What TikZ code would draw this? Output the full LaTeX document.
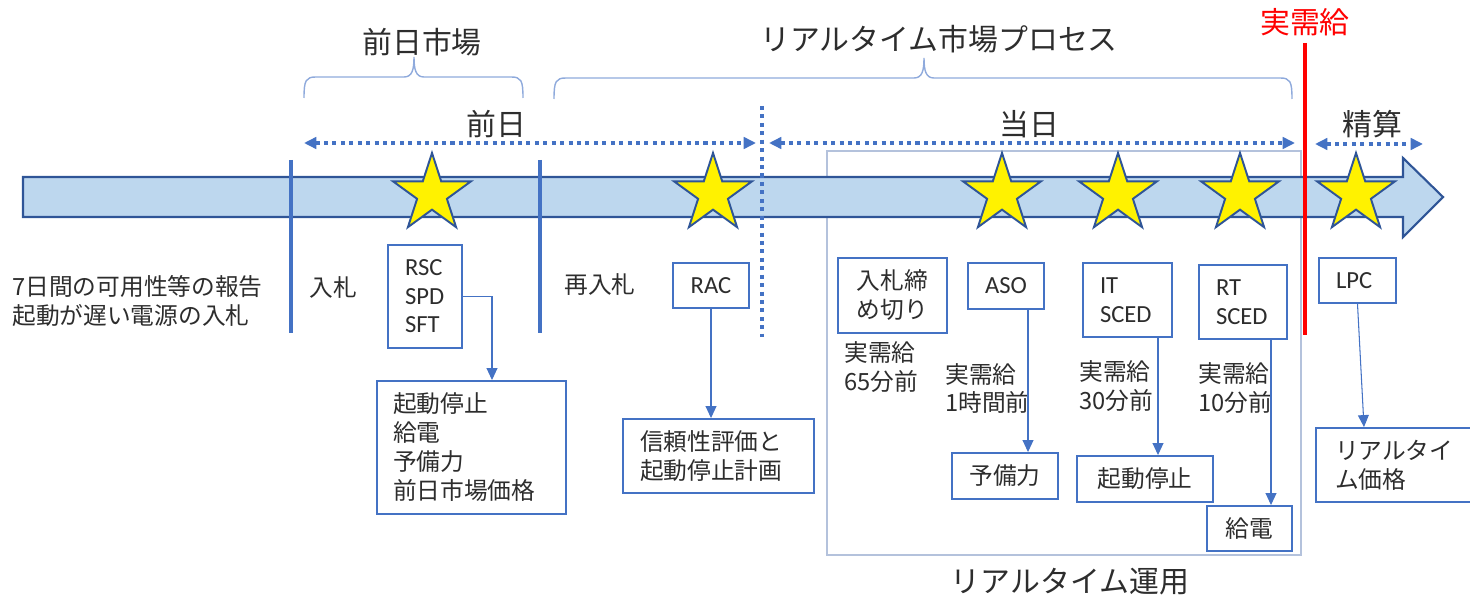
\documentclass[tikz,border=0pt]{standalone}
\usepackage{fontspec}
\setmainfont{Noto Sans CJK JP}
\newfontfamily\latfont{Carlito}
\usetikzlibrary{shapes.geometric,arrows.meta}

\definecolor{lineblue}{RGB}{68,114,196}
\definecolor{barfill}{RGB}{189,215,238}
\definecolor{staredge}{RGB}{47,85,151}
\definecolor{framegray}{RGB}{180,194,220}
\definecolor{bracecol}{RGB}{143,170,220}
\definecolor{txtgray}{RGB}{45,45,45}

\begin{document}
\begin{tikzpicture}[x=0.02cm,y=-0.02cm,
    bigfont/.style={font=\fontsize{17}{20}\selectfont},
    body/.style={font=\fontsize{13.5}{16.5}\selectfont},
    latin/.style={font=\latfont\fontsize{14}{16.5}\selectfont},
    label/.style={body,inner sep=0pt,align=left,text=txtgray},
    box/.style={draw=lineblue,line width=1.1pt,rectangle,inner sep=0pt,
      align=left,body,text=txtgray},
    link/.style={draw=lineblue,line width=0.6pt,
      -{Triangle[length=6.8pt,width=6.2pt]}},
    span/.style={lineblue,line width=2.3pt,dash pattern=on 2.3pt off 2.5pt,
      {Triangle[length=7pt,width=6.5pt]}-{Triangle[length=7pt,width=6.5pt]}},
    fence/.style={lineblue,line width=2.2pt},
    brace/.style={bracecol,line width=0.8pt},
    star5/.style={star,star points=5,star point ratio=2.618,minimum size=1.64cm,
      inner sep=0pt,fill=yellow,draw=staredge,line width=1.1pt}]
  \useasboundingbox (0,0) rectangle (1470,601);

  % headers
  \node[bigfont,text=txtgray] (dam) at (422,42) {前日市場};
  \node[bigfont,text=txtgray] (rtm) at (939,39) {リアルタイム市場プロセス};
  \node[bigfont,text=red] (rtlabel) at (1305,22) {実需給};
  \node[bigfont,text=txtgray] (dayahead) at (496,124) {前日};
  \node[bigfont,text=txtgray] (opday) at (1029,124) {当日};
  \node[bigfont,text=txtgray] (settle) at (1372,124) {精算};
  \node[bigfont,text=txtgray] (rtops) at (1070,582) {リアルタイム運用};

  % braces
  \draw[brace] (304,98) .. controls (304,80) and (306,77) .. (316,77) -- (404,77)
    .. controls (412,77) and (414,70) .. (414,57)
    .. controls (414,70) and (416,77) .. (424,77) -- (511,77)
    .. controls (521,77) and (523,80) .. (523,98);
  \draw[brace] (554,99) .. controls (554,81) and (556,78) .. (566,78) -- (914,78)
    .. controls (922,78) and (924,71) .. (924,58)
    .. controls (924,71) and (926,78) .. (934,78) -- (1280,78)
    .. controls (1290,78) and (1292,81) .. (1292,99);

  % dotted spans
  \coordinate (da1) at (304,143);
  \coordinate (da2) at (756,143);
  \coordinate (od1) at (769,143);
  \coordinate (od2) at (1295,143);
  \coordinate (st1) at (1315,144);
  \coordinate (st2) at (1423,144);
  \draw[span] (da1) -- (da2);
  \draw[span] (od1) -- (od2);
  \draw[span] (st1) -- (st2);

  % real-time frame
  \draw[framegray,line width=0.8pt] (827,151) rectangle (1301,555);

  % time bar
  \draw[fill=barfill,draw=staredge,line width=1.2pt]
    (23,177) -- (1403,177) -- (1403,158) -- (1443,197) -- (1403,237)
    -- (1403,217) -- (23,217) -- cycle;

  \draw[fence] (291,160) -- (291,333);
  \draw[fence] (540,160) -- (540,333);
  \draw[lineblue,line width=2.2pt,dash pattern=on 2.3pt off 2.5pt] (762,106) -- (762,337);
  \draw[red,line width=2.3pt] (1305,43) -- (1305,335);

  \foreach \sx [count=\i] in {432,713,1002,1118,1240,1356}
    \node[star5] (star\i) at (\sx,194) {};

  % texts below the bar
  \node[label,anchor=west] (report) at (12,301)
    {7日間の可用性等の報告\\起動が遅い電源の入札};
  \node[label] (bid) at (333,287) {入札};
  \node[label] (rebid) at (600,285) {再入札};

  \node[box,latin,minimum height=2.06cm,text width=0.8cm,inner xsep=0.34cm,
    font=\latfont\fontsize{14}{16.2}\selectfont] (rsc) at (425,296.5) {RSC\\SPD\\SFT};
  \node[box,minimum height=2.66cm,text width=3.14cm,inner xsep=0.32cm]
    (result) at (471.5,447.5) {起動停止\\給電\\予備力\\前日市場価格};
  \draw[link] (rsc.east) -| ([xshift=0.41cm]result.north);

  \node[box,latin,align=center,minimum width=1.52cm,minimum height=0.9cm]
    (rac) at (711,285.5) {RAC};
  \node[box,minimum height=1.48cm,text width=3.14cm,inner xsep=0.34cm]
    (reliab) at (718.5,456) {信頼性評価と\\起動停止計画};
  \draw[link] (rac.south) -- (rac.south |- reliab.north);

  \node[box,align=center,minimum width=2.18cm,minimum height=1.5cm]
    (close) at (892.5,295.5) {入札締\\め切り};
  \node[label,anchor=west,font=\fontsize{13.5}{17}\selectfont] (t65) at (844,367)
    {実需給\\65分前};

  \node[box,latin,align=center,minimum width=1.52cm,minimum height=0.92cm]
    (aso) at (1006,286) {ASO};
  \node[label,anchor=west] (t60) at (945,388.5) {実需給\\1時間前};
  \node[box,align=center,minimum width=2.12cm,minimum height=0.92cm]
    (reserve) at (1005,476) {予備力};
  \draw[link] ([xshift=0.44cm]aso.south) -- ([xshift=0.44cm]aso.south |- reserve.north);

  \node[box,latin,minimum height=1.48cm,text width=1.1cm,inner xsep=0.34cm]
    (itsced) at (1127.5,300) {IT\\SCED};
  \node[label,anchor=west] (t30) at (1079,386) {実需給\\30分前};
  \node[box,align=center,minimum width=2.72cm,minimum height=0.92cm]
    (ucstop) at (1145,479) {起動停止};
  \draw[link] ([xshift=0.61cm]itsced.south) -- ([xshift=0.61cm]itsced.south |- ucstop.north);

  \node[box,latin,minimum height=1.48cm,text width=1.08cm,inner xsep=0.34cm]
    (rtsced) at (1243,302) {RT\\SCED};
  \node[label,anchor=west] (t10) at (1198,388) {実需給\\10分前};
  \node[box,align=center,minimum width=1.7cm,minimum height=0.9cm]
    (dispatch) at (1249.5,528.5) {給電};
  \draw[link] ([xshift=0.56cm]rtsced.south) -- ([xshift=0.56cm]rtsced.south |- dispatch.north);

  \node[box,latin,minimum height=0.9cm,text width=0.86cm,inner xsep=0.34cm]
    (lpc) at (1357.5,280.5) {LPC};
  \node[box,minimum height=1.48cm,text width=2.6cm,inner xsep=0.38cm]
    (rtprice) at (1400,465) {リアルタイ\\ム価格};
  \draw[link] (lpc.south) -- ([xshift=-0.72cm]rtprice.north);
\end{tikzpicture}
\end{document}
